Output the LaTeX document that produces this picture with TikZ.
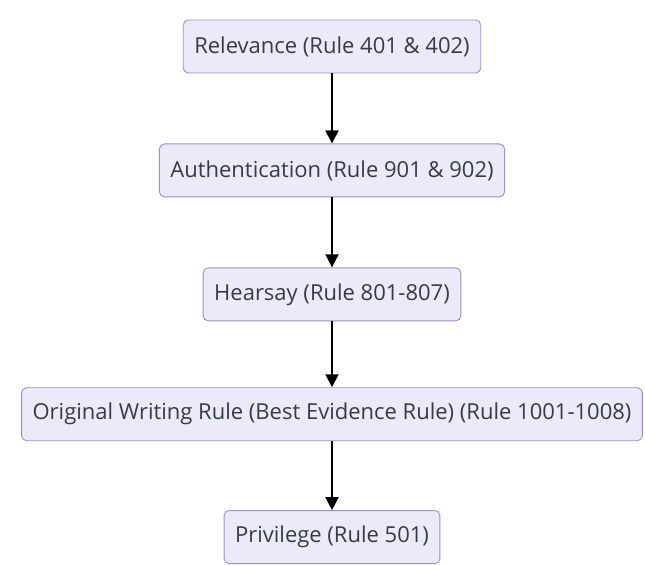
\documentclass[tikz,border=0pt]{standalone}
\usepackage{fontspec}
\setmainfont{Open Sans}
\usepackage{tikz}
\usetikzlibrary{arrows.meta,positioning}
\definecolor{boxfill}{HTML}{ECEAF8}
\definecolor{boxline}{HTML}{9A8FD8}
\definecolor{txt}{HTML}{333D45}

\begin{document}
\begin{tikzpicture}[->,>={Triangle[length=13pt,width=13pt]},line width=1.8pt,node distance=70pt,
                    rule/.style={draw=boxline,fill=boxfill,line width=0.9pt,rounded corners=5pt,
                      minimum height=53pt,inner xsep=11pt,text=txt,
                      font=\fontsize{22}{26}\selectfont}]
  \useasboundingbox (0pt,0pt) rectangle (645pt,-565pt);

  \node[rule] (rel) at (332pt,-46.5pt) {Relevance (Rule 401 \& 402)};
  \node[rule] (auth) [below=of rel] {Authentication (Rule 901 \& 902)};
  \node[rule] (hear) [below=of auth] {Hearsay (Rule 801-807)};
  \node[rule] (orig) [below=66pt of hear] {Original Writing Rule (Best Evidence Rule) (Rule 1001-1008)};
  \node[rule] (priv) [below=69pt of orig] {Privilege (Rule 501)};

  \path (rel) edge (auth)
        (auth) edge (hear)
        (hear) edge (orig)
        (orig) edge (priv);
\end{tikzpicture}
\end{document}
